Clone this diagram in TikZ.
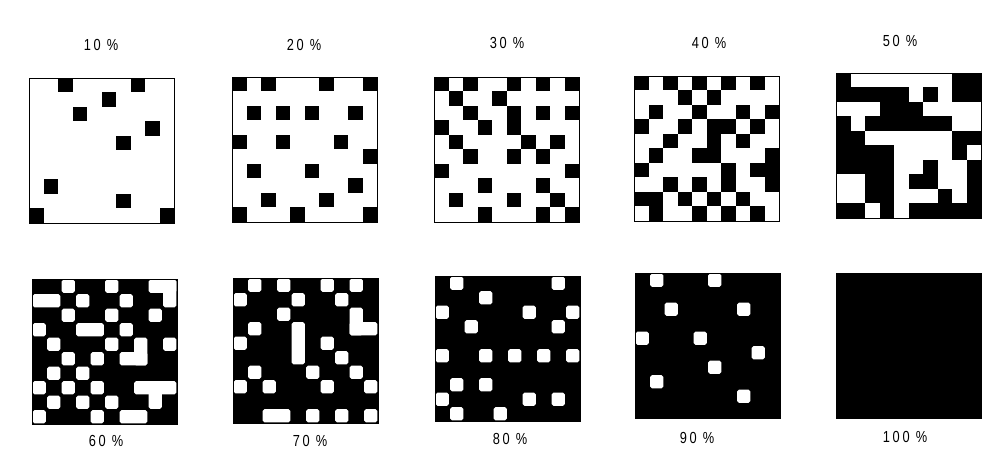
\documentclass[tikz,border=0pt]{standalone}
\usepackage{fontspec}
\newfontfamily\labfont{Liberation Sans}[FakeStretch=0.8,LetterSpace=18]
\newcommand\pc{\hspace{6pt}\%}
\begin{document}
\begin{tikzpicture}[x=1pt,y=-1pt,
  frame/.style={draw=black,line width=0.9pt},
  hole/.style={fill=white,rounded corners=1.8pt},
  lab/.style={font=\labfont\fontsize{16}{16}\selectfont,inner sep=0pt,anchor=center}]
\useasboundingbox (0,0) rectangle (995,462);
\fill[white] (0,0) rectangle (995,462);
\def\cs{14.5}
% ---------- 10 %
\begin{scope}[shift={(29,78)}]
 \fill[white] (0,0) rectangle (145,145);
 \foreach \c/\r in {2/0,7/0,5/1,3/2,8/3,6/4,1/7,6/8,0/9,9/9}
   \fill[black] (\c*\cs,\r*\cs) rectangle ++(\cs,\cs);
 \draw[frame] (0,0) rectangle (145,145);
\end{scope}
% ---------- 20 %
\begin{scope}[shift={(232,77)}]
 \fill[white] (0,0) rectangle (145,145);
 \foreach \c/\r in {0/0,2/0,6/0,9/0, 1/2,3/2,5/2,8/2, 0/4,3/4,7/4, 9/5, 1/6,5/6, 8/7, 2/8,6/8, 0/9,4/9,9/9}
   \fill[black] (\c*\cs,\r*\cs) rectangle ++(\cs,\cs);
 \draw[frame] (0,0) rectangle (145,145);
\end{scope}
% ---------- 30 %
\begin{scope}[shift={(434,77)}]
 \fill[white] (0,0) rectangle (145,145);
 \foreach \c/\r in {0/0,2/0,5/0,7/0,9/0, 1/1,4/1, 2/2,5/2,7/2,9/2, 0/3,3/3,5/3, 1/4,6/4,8/4, 2/5,5/5,7/5, 0/6,9/6, 3/7,7/7, 1/8,5/8,8/8, 3/9,7/9,9/9}
   \fill[black] (\c*\cs,\r*\cs) rectangle ++(\cs,\cs);
 \draw[frame] (0,0) rectangle (145,145);
\end{scope}
% ---------- 40 %
\begin{scope}[shift={(634,76)}]
 \fill[white] (0,0) rectangle (145,145);
 \foreach \c/\r in {0/0,2/0,4/0,6/0,8/0, 3/1,5/1, 1/2,4/2,7/2,9/2, 0/3,3/3,5/3,6/3,8/3, 2/4,5/4,7/4, 1/5,4/5,5/5,9/5, 0/6,6/6,8/6,9/6, 2/7,4/7,6/7,9/7, 0/8,1/8,3/8,5/8,7/8, 1/9,4/9,6/9,8/9}
   \fill[black] (\c*\cs,\r*\cs) rectangle ++(\cs,\cs);
 \draw[frame] (0,0) rectangle (145,145);
\end{scope}
% ---------- 50 %
\begin{scope}[shift={(836,73)}]
 \fill[white] (0,0) rectangle (145,145);
 \foreach \c/\r in {0/0,8/0,9/0, 0/1,1/1,2/1,3/1,4/1,6/1,8/1,9/1, 3/2,4/2,5/2, 0/3,2/3,3/3,4/3,5/3,6/3,7/3, 0/4,1/4,8/4,9/4, 0/5,1/5,2/5,3/5,8/5, 0/6,1/6,2/6,3/6,6/6,9/6, 2/7,3/7,5/7,6/7,9/7, 2/8,3/8,7/8,9/8, 0/9,1/9,3/9,5/9,6/9,7/9,8/9,9/9}
   \fill[black] (\c*\cs,\r*\cs) rectangle ++(\cs,\cs);
 \draw[frame] (0,0) rectangle (145,145);
\end{scope}
% ---------- 60 %  (white holes: col/row/width/height in cells)
\begin{scope}[shift={(32,279)}]
 \fill[black] (0,0) rectangle (145,145);
 \foreach \c/\r/\w/\h in {2/0/1/1,5/0/1/1,8/0/2/1,9/0/1/2, 0/1/2/1,3/1/1/1,6/1/1/1, 2/2/1/1,5/2/1/1,8/2/1/1, 0/3/1/1,3/3/2/1,6/3/1/1, 1/4/1/1,5/4/1/1,7/4/1/2,9/4/1/1, 2/5/1/1,4/5/1/1,6/5/2/1, 1/6/1/1,3/6/1/1, 0/7/1/1,2/7/1/1,4/7/1/1,7/7/3/1,8/7/1/2, 1/8/1/1,3/8/1/1,5/8/1/1, 0/9/1/1,4/9/1/1,6/9/2/1}
   \fill[hole] (\c*\cs+0.7,\r*\cs+0.7) rectangle ++(\w*\cs-1.4,\h*\cs-1.4);
 \draw[frame] (0,0) rectangle (145,145);
\end{scope}
% ---------- 70 %
\begin{scope}[shift={(233,278)}]
 \fill[black] (0,0) rectangle (145,145);
 \foreach \c/\r/\w/\h in {1/0/1/1,3/0/1/1,6/0/1/1,8/0/1/1, 0/1/1/1,4/1/1/1,7/1/1/1, 3/2/1/1,8/2/1/2, 1/3/1/1,4/3/1/3,8/3/2/1, 0/4/1/1,6/4/1/1, 7/5/1/1, 1/6/1/1,5/6/1/1,8/6/1/1, 0/7/1/1,2/7/1/1,6/7/1/1,9/7/1/1, 2/9/2/1,5/9/1/1,7/9/1/1,9/9/1/1}
   \fill[hole] (\c*\cs+0.7,\r*\cs+0.7) rectangle ++(\w*\cs-1.4,\h*\cs-1.4);
 \draw[frame] (0,0) rectangle (145,145);
\end{scope}
% ---------- 80 %
\begin{scope}[shift={(435,276)}]
 \fill[black] (0,0) rectangle (145,145);
 \foreach \c/\r in {1/0,8/0, 3/1, 0/2,6/2,9/2, 2/3,8/3, 0/5,3/5,5/5,7/5,9/5, 1/7,3/7, 0/8,6/8,8/8, 1/9,4/9}
   \fill[hole] (\c*\cs+0.7,\r*\cs+0.7) rectangle ++(\cs-1.4,\cs-1.4);
 \draw[frame] (0,0) rectangle (145,145);
\end{scope}
% ---------- 90 %
\begin{scope}[shift={(635,273)}]
 \fill[black] (0,0) rectangle (145,145);
 \foreach \c/\r in {1/0,5/0, 2/2,7/2, 0/4,4/4, 8/5, 5/6, 1/7, 7/8}
   \fill[hole] (\c*\cs+0.7,\r*\cs+0.7) rectangle ++(\cs-1.4,\cs-1.4);
 \draw[frame] (0,0) rectangle (145,145);
\end{scope}
% ---------- 100 %
\begin{scope}[shift={(836,273)}]
 \fill[black] (0,0) rectangle (145,145);
 \draw[frame] (0,0) rectangle (145,145);
\end{scope}
% ---------- labels
\node[lab] (l10)  at (101,45) {10\pc};
\node[lab] (l20)  at (304,45) {20\pc};
\node[lab] (l30)  at (507,43) {30\pc};
\node[lab] (l40)  at (709,43) {40\pc};
\node[lab] (l50)  at (900,41) {50\pc};
\node[lab] (l60)  at (106,441) {60\pc};
\node[lab] (l70)  at (310,441) {70\pc};
\node[lab] (l80)  at (510,439) {80\pc};
\node[lab] (l90)  at (697,438) {90\pc};
\node[lab] (l100) at (905,437) {100\pc};
\end{tikzpicture}
\end{document}
